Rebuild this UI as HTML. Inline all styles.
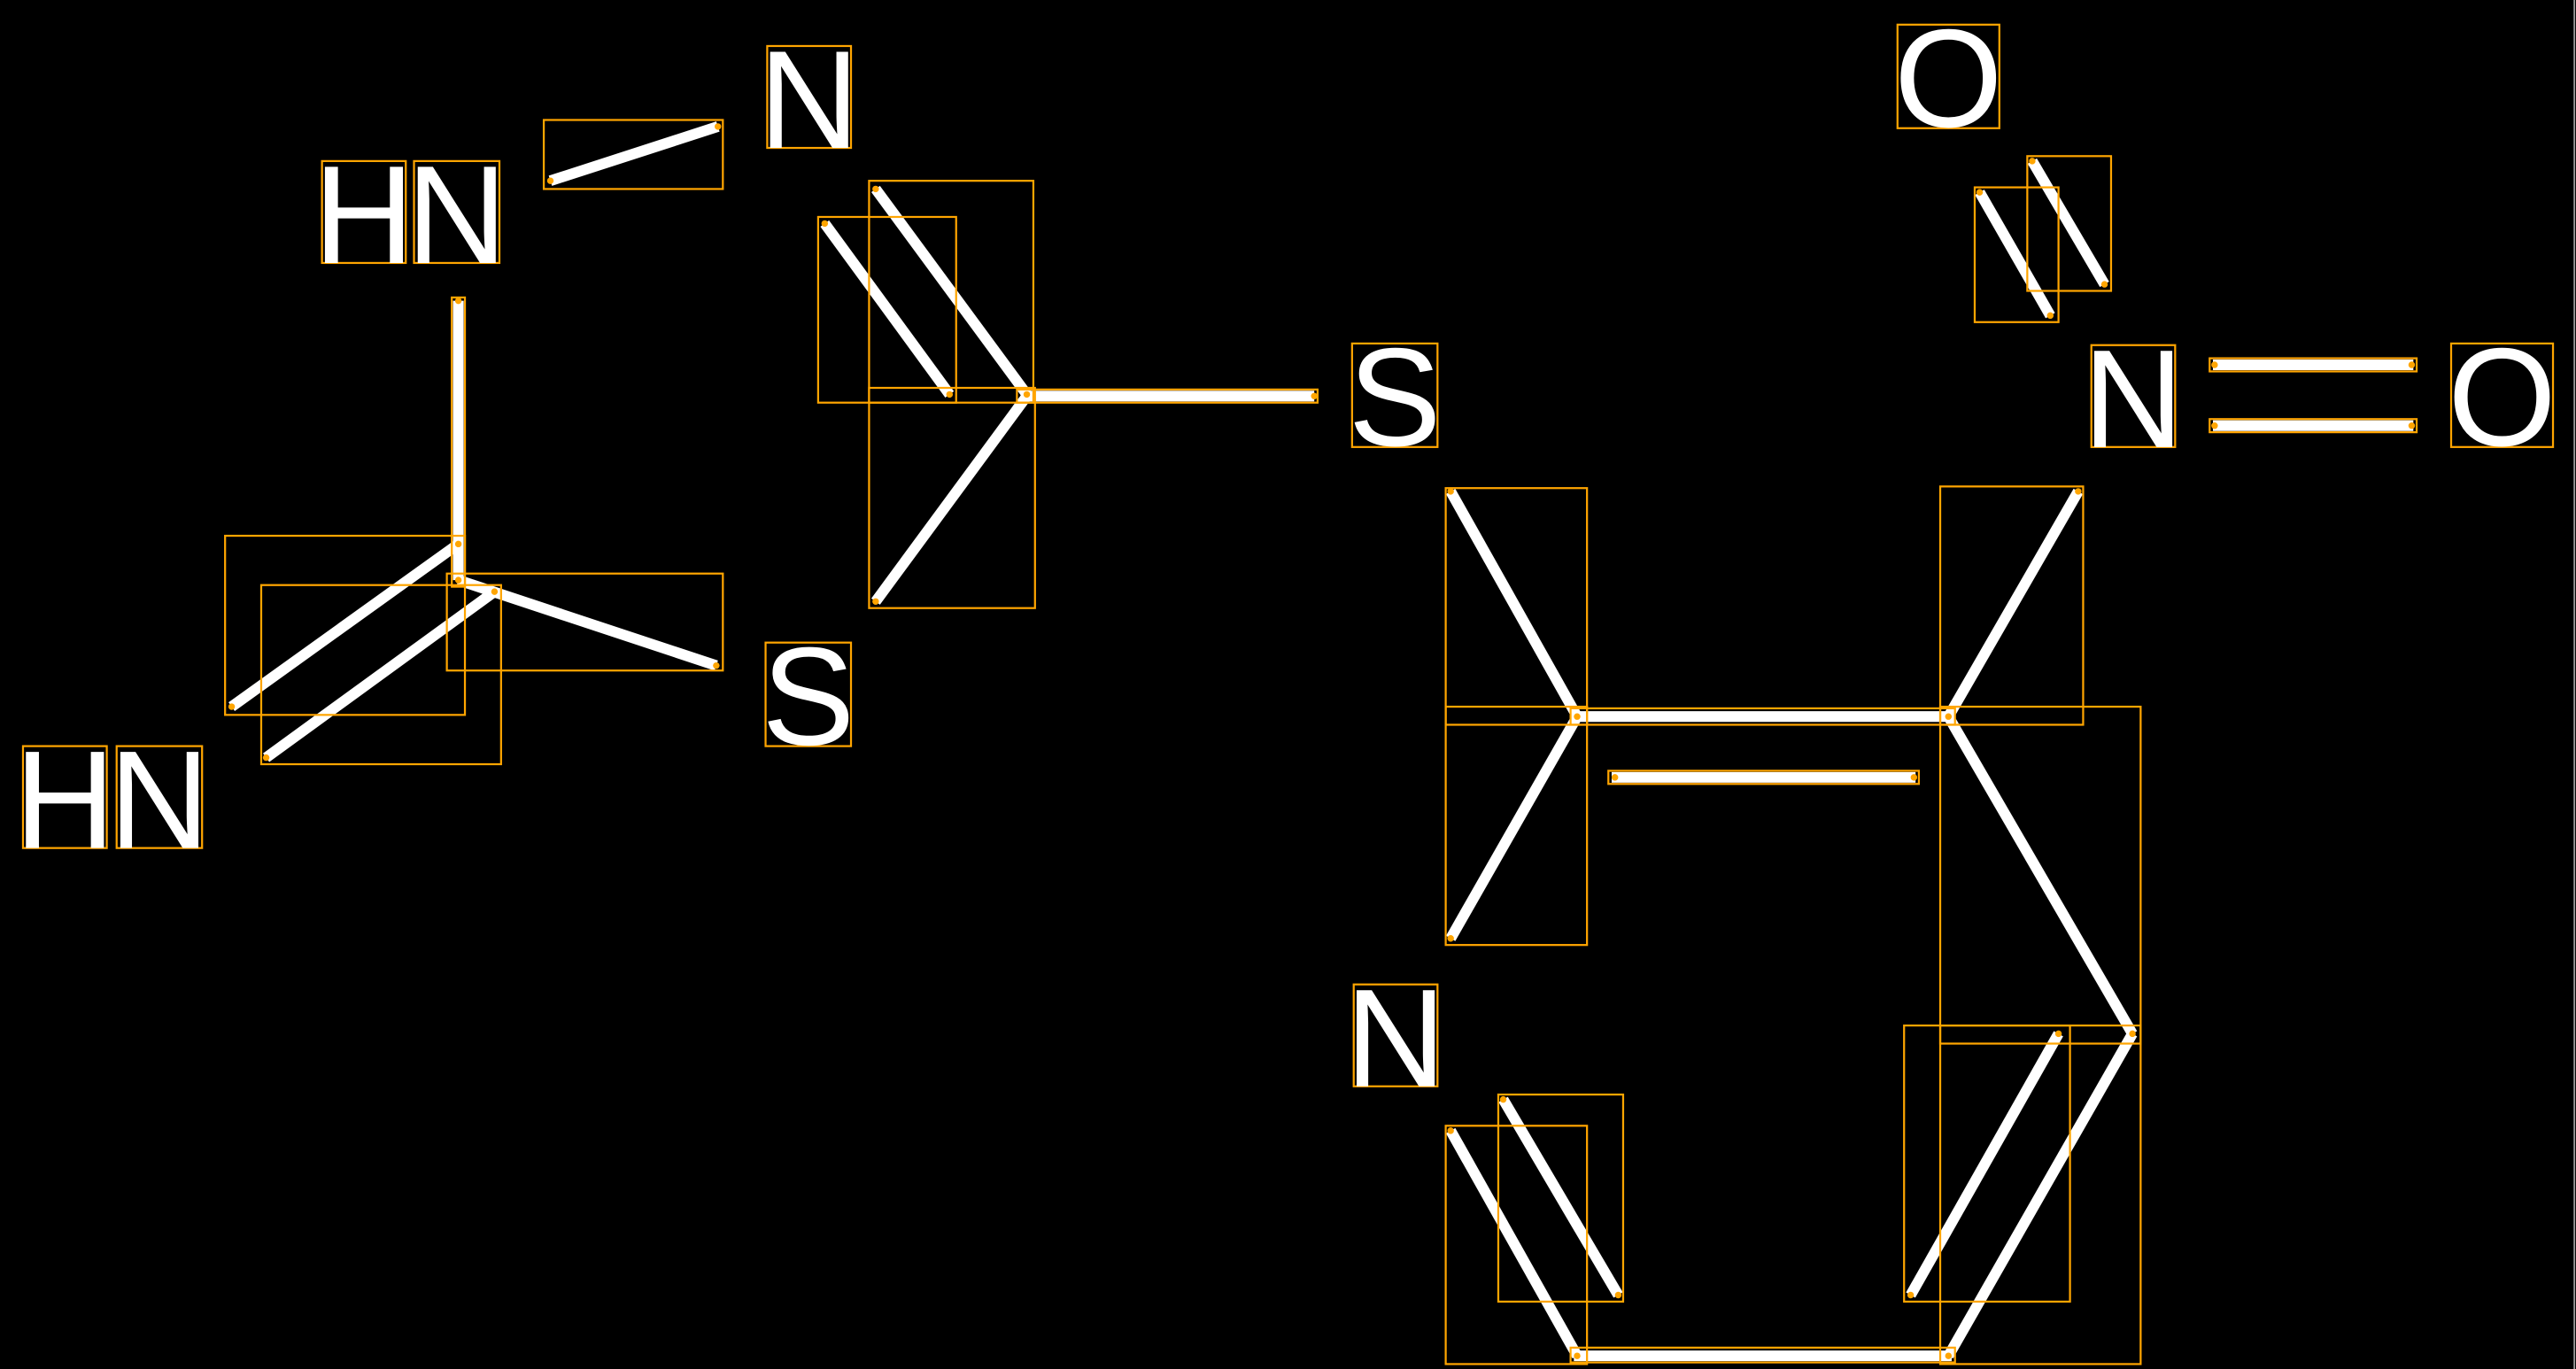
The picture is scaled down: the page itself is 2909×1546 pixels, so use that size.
<!DOCTYPE html>
<html><head><meta charset="utf-8"><style>
html,body{margin:0;padding:0;background:#000;}
svg{display:block;}
</style></head><body>
<svg width="2909" height="1546" viewBox="0 0 1568 833" preserveAspectRatio="none" xmlns="http://www.w3.org/2000/svg">
<rect x="0" y="0" width="1568" height="833" fill="#000"/>
<line x1="1567" y1="0" x2="1567" y2="833" stroke="#999" stroke-width="1"/>
<g stroke="#fff" stroke-width="6.5" stroke-linecap="butt">
<line x1="335" y1="110" x2="437" y2="77"/>
<line x1="279" y1="183" x2="279" y2="353"/>
<line x1="141" y1="430" x2="279" y2="331"/>
<line x1="162" y1="461" x2="301" y2="360"/>
<line x1="279" y1="353" x2="436" y2="405"/>
<line x1="502" y1="136" x2="578" y2="240"/>
<line x1="533" y1="115" x2="625" y2="240"/>
<line x1="533" y1="366" x2="625" y2="241"/>
<line x1="623" y1="241" x2="800" y2="241"/>
<line x1="1205" y1="117" x2="1248" y2="192"/>
<line x1="1237" y1="98" x2="1281" y2="173"/>
<line x1="1347" y1="222" x2="1469" y2="222"/>
<line x1="1347" y1="259" x2="1469" y2="259"/>
<line x1="883" y1="299" x2="960" y2="436"/>
<line x1="958" y1="436" x2="1188" y2="436"/>
<line x1="981" y1="473" x2="1166" y2="473"/>
<line x1="1186" y1="436" x2="1265" y2="299"/>
<line x1="1186" y1="436" x2="1298" y2="629"/>
<line x1="1298" y1="629" x2="1186" y2="825"/>
<line x1="1253" y1="629" x2="1163" y2="788"/>
<line x1="958" y1="825" x2="1188" y2="825"/>
<line x1="883" y1="688" x2="960" y2="825"/>
<line x1="915" y1="669" x2="985" y2="788"/>
<line x1="960" y1="436" x2="883" y2="571"/>
</g>
<g fill="none" stroke="#FFA500" stroke-width="1.2">
<rect x="331" y="73" width="109" height="42"/>
<rect x="275" y="181" width="8" height="176"/>
<rect x="137" y="326" width="146" height="109"/>
<rect x="159" y="356" width="146" height="109"/>
<rect x="272" y="349" width="168" height="59"/>
<rect x="498" y="132" width="84" height="113"/>
<rect x="529" y="110" width="100" height="135"/>
<rect x="529" y="236" width="101" height="134"/>
<rect x="619" y="237" width="183" height="8"/>
<rect x="1202" y="114" width="51" height="82"/>
<rect x="1234" y="95" width="51" height="82"/>
<rect x="1345" y="218" width="126" height="8"/>
<rect x="1345" y="255" width="126" height="8"/>
<rect x="880" y="297" width="86" height="144"/>
<rect x="956" y="431" width="234" height="10"/>
<rect x="979" y="469" width="189" height="8"/>
<rect x="1181" y="296" width="87" height="145"/>
<rect x="1181" y="430" width="122" height="205"/>
<rect x="1181" y="624" width="122" height="206"/>
<rect x="1159" y="624" width="101" height="168"/>
<rect x="956" y="820" width="234" height="9"/>
<rect x="880" y="685" width="86" height="145"/>
<rect x="912" y="666" width="76" height="126"/>
<rect x="880" y="430" width="86" height="145"/>
<rect x="196" y="98" width="51" height="62"/>
<rect x="252" y="98" width="52" height="62"/>
<rect x="467" y="28" width="51" height="62"/>
<rect x="1155" y="15" width="62" height="63"/>
<rect x="823" y="209" width="52" height="63"/>
<rect x="1273" y="210" width="51" height="62"/>
<rect x="1492" y="209" width="62" height="63"/>
<rect x="466" y="391" width="52" height="63"/>
<rect x="14" y="454" width="51" height="62"/>
<rect x="71" y="454" width="52" height="62"/>
<rect x="824" y="599" width="51" height="62"/>
</g>
<g fill="#FFA500">
<circle cx="335" cy="110" r="2"/><circle cx="437" cy="77" r="2"/>
<circle cx="279" cy="183" r="2"/><circle cx="279" cy="353" r="2"/>
<circle cx="141" cy="430" r="2"/><circle cx="279" cy="331" r="2"/>
<circle cx="162" cy="461" r="2"/><circle cx="301" cy="360" r="2"/>
<circle cx="436" cy="405" r="2"/>
<circle cx="502" cy="136" r="2"/><circle cx="578" cy="240" r="2"/>
<circle cx="533" cy="115" r="2"/><circle cx="625" cy="240" r="2"/>
<circle cx="533" cy="366" r="2"/><circle cx="800" cy="241" r="2"/>
<circle cx="1205" cy="117" r="2"/><circle cx="1248" cy="192" r="2"/>
<circle cx="1237" cy="98" r="2"/><circle cx="1281" cy="173" r="2"/>
<circle cx="1348" cy="222" r="2"/><circle cx="1468" cy="222" r="2"/>
<circle cx="1348" cy="259" r="2"/><circle cx="1468" cy="259" r="2"/>
<circle cx="883" cy="299" r="2"/><circle cx="960" cy="436" r="2"/>
<circle cx="983" cy="473" r="2"/><circle cx="1165" cy="473" r="2"/>
<circle cx="1186" cy="436" r="2"/><circle cx="1265" cy="299" r="2"/>
<circle cx="1298" cy="629" r="2"/><circle cx="1253" cy="629" r="2"/>
<circle cx="1163" cy="788" r="2"/><circle cx="1186" cy="825" r="2"/>
<circle cx="960" cy="825" r="2"/><circle cx="883" cy="688" r="2"/>
<circle cx="915" cy="669" r="2"/><circle cx="985" cy="788" r="2"/>
<circle cx="883" cy="571" r="2"/>
</g>
<g fill="#fff" font-family="Liberation Sans, sans-serif" font-size="85" text-anchor="middle">
<text x="221.5" y="160">H</text>
<text x="278" y="160">N</text>
<text x="492.5" y="90">N</text>
<text x="1186" y="77">O</text>
<text x="849" y="271">S</text>
<text x="1298.5" y="272">N</text>
<text x="1523" y="271">O</text>
<text x="492" y="453">S</text>
<text x="39.5" y="516">H</text>
<text x="97" y="516">N</text>
<text x="849.5" y="661">N</text>
</g>
</svg>
</body></html>
